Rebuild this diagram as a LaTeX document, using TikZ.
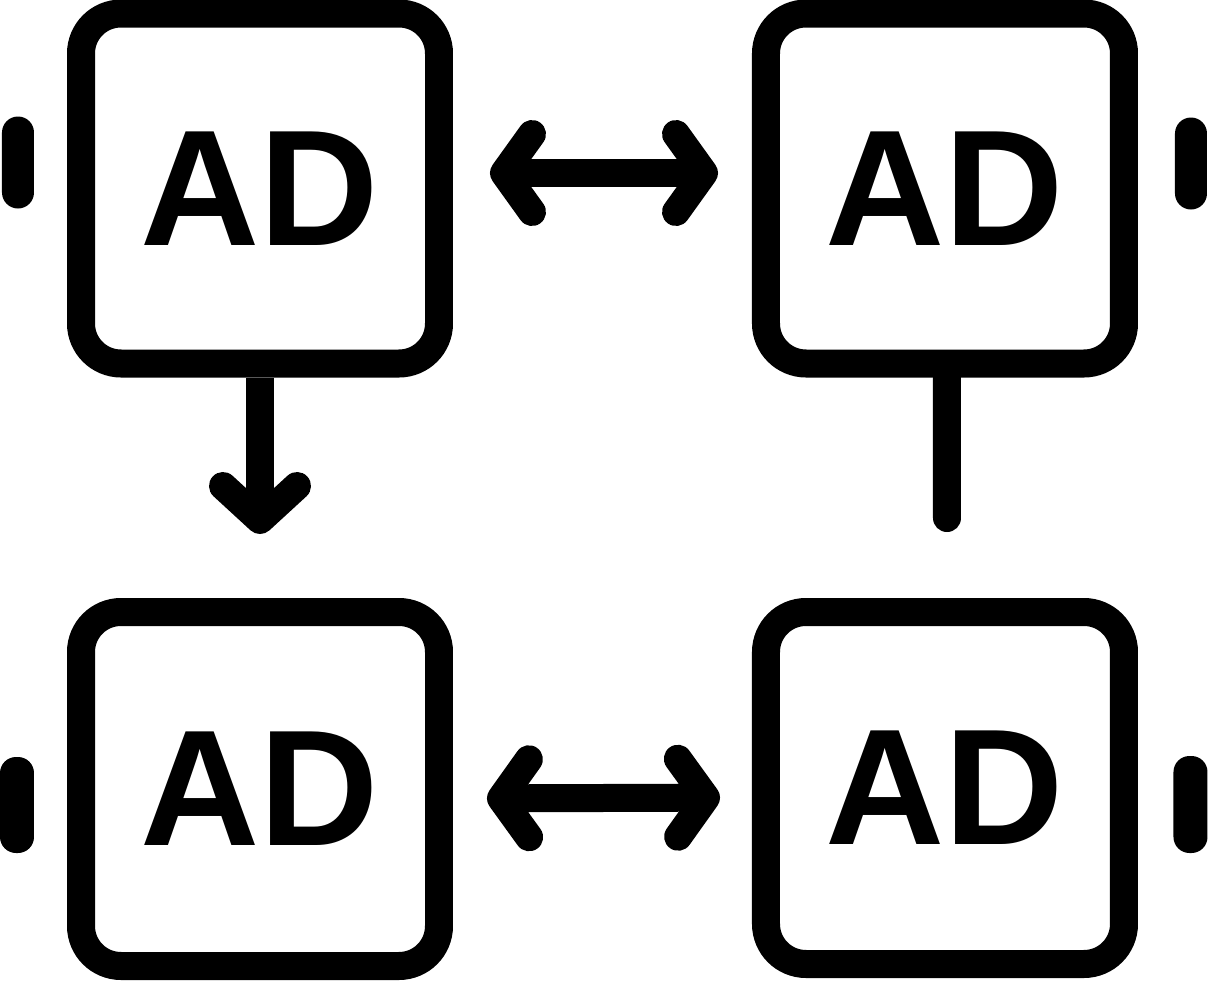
\documentclass[tikz,border=0pt]{standalone}
\usepackage{fontspec}
\setsansfont{Liberation Sans}
\usetikzlibrary{arrows.meta}

\begin{document}
\begin{tikzpicture}[
  adbox/.style={draw,line width=2.8mm,rounded corners=4mm,minimum width=3.58cm,minimum height=3.5cm,inner sep=0pt,
    font=\sffamily\bfseries\fontsize{47pt}{52pt}\selectfont},
  link/.style={line width=2.8mm},
  pill/.style={fill,rounded corners=1.6mm,minimum width=3.2mm,minimum height=9.2mm,inner sep=0pt},
  >={Straight Barb[round,length=2.8mm,width=7.8mm]}]
\useasboundingbox (0,0) rectangle (12.08,9.8);

% four ad panels
\node[adbox] (tl) at (2.60,7.915) {AD};
\node[adbox] (tr) at (9.45,7.915) {AD};
\node[adbox,minimum height=3.54cm] (bl) at (2.60,1.91) {AD};
\node[adbox,minimum height=3.52cm] (br) at (9.45,1.92) {AD};

% side marks
\node[pill] (pl1) at (0.18,8.175) {};
\node[pill] (pr1) at (11.91,8.165) {};
\node[pill,minimum height=9.6mm,minimum width=3.4mm] (pl2) at (0.17,1.75) {};
\node[pill,minimum height=9.7mm,minimum width=3.4mm] (pr2) at (11.905,1.755) {};

% links
\draw[link,<->,shorten <=3.7mm,shorten >=3.4mm] ([yshift=1.55mm]tl.east) -- ([yshift=1.55mm]tr.west);
\draw[link,<->,shorten <=3.4mm,shorten >=3.2mm] ([yshift=-0.95mm]bl.east) -- ([yshift=-0.95mm]br.west);
\draw[link,>={Straight Barb[round,length=3.4mm,width=7.4mm]},->,shorten >=6.4mm] (tl.south) -- (bl.north);
\coordinate (stub) at (9.47,4.62);
\draw[link,line cap=round] ([xshift=0.2mm]tr.south) -- (stub);
\end{tikzpicture}
\end{document}
